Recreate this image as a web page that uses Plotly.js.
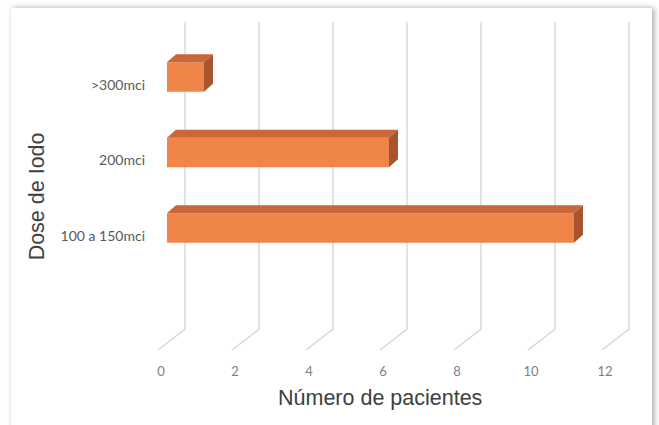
<!DOCTYPE html>
<html>
<head>
<meta charset="utf-8">
<script src="https://cdn.plot.ly/plotly-3.0.1.min.js"></script>
<style>
  html, body { margin: 0; padding: 0; background: #ffffff; width: 659px; height: 425px; overflow: hidden; }
  #card { position: absolute; left: 11px; top: 8px; width: 641px; height: 440px; background: #ffffff;
          box-shadow: 2px 0 6px rgba(0,0,0,0.35); }
  #chart { position: absolute; left: 0; top: 0; width: 659px; height: 425px; }
</style>
</head>
<body>
<div id="card"></div>
<div id="chart"></div>
<script>
// Data
const categories = ['100 a 150mci', '200mci', '>300mci'];
const values = [11, 6, 1];
const xTicks = [0, 2, 4, 6, 8, 10, 12];
const xTickLabels = ['0', '2', '4', '6', '8', '10', '12'];
const xTitle = 'Número de pacientes';
const yTitle = 'Dose de Iodo';

// 3D look parameters (data units)
const barW = 0.39, dx = 0.243, dy = 0.106;
const backDx = 0.486, frontDx = -0.243;
const gridTop = 2.73, gridCorner = -1.34, gridBottom = -1.616;

const pos = categories.map((c, i) => i);

// Gridlines in perspective (shapes below the bars)
const shapes = [];
xTicks.forEach(t => {
  shapes.push({
    type: 'path', xref: 'x', yref: 'y', layer: 'below',
    path: 'M' + (t + backDx) + ',' + gridTop + ' L' + (t + backDx) + ',' + gridCorner +
          ' L' + (t + frontDx) + ',' + gridBottom,
    line: { color: '#d9d9d9', width: 1.5 }
  });
});

const traces = [];
// Front faces
traces.push({
  type: 'bar', orientation: 'h', x: values, y: pos, base: 0, width: barW,
  marker: { color: '#F0854A', line: { width: 0 } }, showlegend: false
});

// Top and side faces
values.forEach((v, i) => {
  const top = i + barW / 2, bot = i - barW / 2;
  traces.push({
    type: 'scatter', mode: 'lines', fill: 'toself', fillcolor: '#C9663A',
    x: [0, v, v + dx, dx, 0], y: [top, top, top + dy, top + dy, top],
    line: { width: 0, color: '#C9663A' }, hoverinfo: 'skip', showlegend: false
  });
  traces.push({
    type: 'scatter', mode: 'lines', fill: 'toself', fillcolor: '#A8552F',
    x: [v, v + dx, v + dx, v, v], y: [bot, bot + dy, top + dy, top, bot],
    line: { width: 0, color: '#A8552F' }, hoverinfo: 'skip', showlegend: false
  });
});

const titleFont = { family: 'Liberation Sans, Arial, sans-serif', size: 21.5, color: '#404040' };

const layout = {
  width: 659, height: 425,
  margin: { l: 150, r: 19, t: 20, b: 75 },
  paper_bgcolor: 'rgba(0,0,0,0)', plot_bgcolor: 'rgba(0,0,0,0)',
  showlegend: false,
  shapes: shapes,
  xaxis: {
    range: [-0.459, 12.784], showgrid: false, zeroline: false, showline: false,
    tickvals: xTicks, ticktext: xTickLabels, ticks: '',
    ticklabelshift: -6, ticklabelstandoff: 12,
    tickfont: { family: 'Lato, Carlito, sans-serif', size: 13, color: '#808080' }
  },
  yaxis: {
    range: [-1.616, 2.755], showgrid: false, zeroline: false, showline: false,
    tickvals: pos, ticktext: categories, ticks: '',
    ticklabelshift: 8, ticklabelstandoff: 4,
    tickfont: { family: 'Lato, Carlito, sans-serif', size: 14, color: '#595959' }
  },
  annotations: [{
    text: xTitle, xref: 'paper', yref: 'paper',
    x: 0.469, y: -0.145, xanchor: 'center', yanchor: 'middle', showarrow: false,
    font: titleFont
  }, {
    text: yTitle, xref: 'paper', yref: 'paper', textangle: -90,
    x: -0.231, y: 0.465, xanchor: 'center', yanchor: 'middle', showarrow: false,
    font: titleFont
  }]
};

Plotly.newPlot('chart', traces, layout, { displayModeBar: false, staticPlot: true });
</script>
</body>
</html>
